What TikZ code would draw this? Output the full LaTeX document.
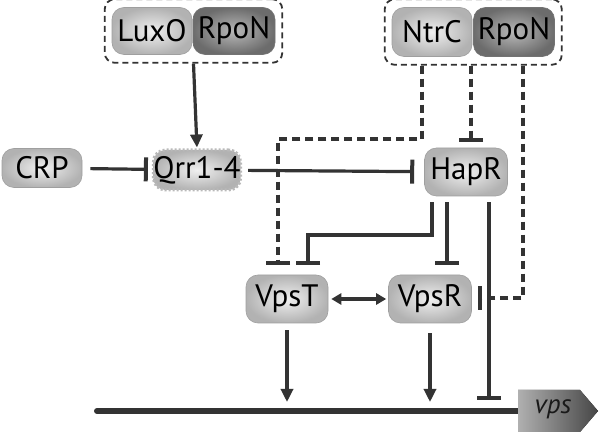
\documentclass[tikz,border=0pt]{standalone}
\usepackage{fontspec}
\setmainfont{PT Sans}
\usetikzlibrary{arrows.meta,fit,calc}
\definecolor{ln}{HTML}{333333}
\begin{document}
\begin{tikzpicture}[x=1pt,y=-1pt,
  prot/.style={rounded corners=12pt, minimum height=47pt, minimum width=80pt, inner sep=0pt,
    draw=gray!75, line width=0.6pt, inner color=gray!12, outer color=gray!60, text=black,
    font=\fontsize{31}{33}\selectfont},
  darkprot/.style={prot, inner color=gray!55, outer color=gray!85!black, draw=gray!90!black},
  grp/.style={draw=ln, line width=1.8pt, dash pattern=on 6pt off 4pt, rounded corners=10pt, inner xsep=7pt, inner ysep=8pt},
  lk/.style={draw=ln, line width=3.2pt},
  inh/.style={lk, -{Bar[width=24pt,line width=4pt]}},
  act/.style={lk, -{Triangle[length=13pt,width=12pt]}},
  dsh/.style={dash pattern=on 8pt off 5pt},
]
\useasboundingbox (0,0) rectangle (600,435);

% proteins
\node[prot] (luxo) at (152,31) {LuxO};
\node[darkprot, minimum width=82pt] (rpon1) at (234,31) {RpoN};
\node[prot, minimum height=49pt] (ntrc) at (432,32) {NtrC};
\node[darkprot, minimum width=81pt, minimum height=49pt] (rpon2) at (514,32) {RpoN};
\node[grp, fit=(luxo)(rpon1)] (box1) {};
\node[grp, fit=(ntrc)(rpon2)] (box2) {};
\node[prot, minimum height=39pt] (crp) at (42,168) {CRP};
\node[prot, minimum width=84pt, minimum height=40pt, draw=gray!55, line width=3pt, dash pattern=on 2pt off 2pt] (qrr) at (197,170) {Qrr1-4};
\node[prot, minimum width=83pt, minimum height=48pt] (hapr) at (466,172) {HapR};
\node[prot, minimum width=82pt, minimum height=48pt] (vpst) at (287,299) {VpsT};
\node[prot, minimum width=83pt, minimum height=48pt] (vpsr) at (430,299) {VpsR};

% routing coordinates
\coordinate (a1) at (422,139);
\coordinate (a2) at (278,139);
\coordinate (b1) at (471,0);
\coordinate (c1) at (523,298);
\coordinate (d1) at (432,235);
\coordinate (d2) at (308,235);
\coordinate (e1) at (447,0);
\coordinate (f1) at (489,0);
\coordinate (g0) at (97,411);
\coordinate (g1) at (518,411);

% gene line and vps
\draw[ln, line width=6pt, line cap=round] (g0) -- (g1);
\fill[left color=gray!62, right color=gray!55!black] (518,390) -- (580,390) -- (598,411) -- (580,432) -- (518,432) -- cycle;
\node[font=\fontsize{27}{29}\selectfont\itshape, text=black!90] (vps) at (553,409) {vps};

% connectors
\draw[act, shorten >=1pt] (box1.south) -- (qrr.north);
\draw[inh, shorten <=8pt, shorten >=4pt] (crp) -- (qrr);
\draw[inh, shorten <=6pt, shorten >=10pt] (qrr) -- (hapr);

\draw[inh, dsh, shorten >=10pt] (box2.south -| a1) -- (a1) -- (a2) -- (vpst.north -| a2);
\draw[inh, dsh, shorten >=6pt] (box2.south -| b1) -- (hapr.north -| b1);
\draw[inh, dsh, shorten >=6pt] (box2.south -| c1) -- (c1) -- (vpsr.east |- c1);

\draw[inh, shorten <=6pt, shorten >=10pt] (hapr.south -| d1) -- (d1) -- (d2) -- (vpst.north -| d2);
\draw[inh, shorten <=6pt, shorten >=10pt] (hapr.south -| e1) -- (vpsr.north -| e1);
\draw[inh, shorten <=6pt, shorten >=11pt] (hapr.south -| f1) -- (f1 |- g0);

\draw[lk, {Triangle[length=10pt,width=11pt]}-{Triangle[length=10pt,width=11pt]}, shorten <=3pt, shorten >=2pt] (vpst) -- (vpsr);
\draw[act, shorten <=7pt, shorten >=9pt] (vpst.south) -- (vpst.south |- g0);
\draw[act, shorten <=10pt, shorten >=9pt] (vpsr.south) -- (vpsr.south |- g0);
\end{tikzpicture}
\end{document}
